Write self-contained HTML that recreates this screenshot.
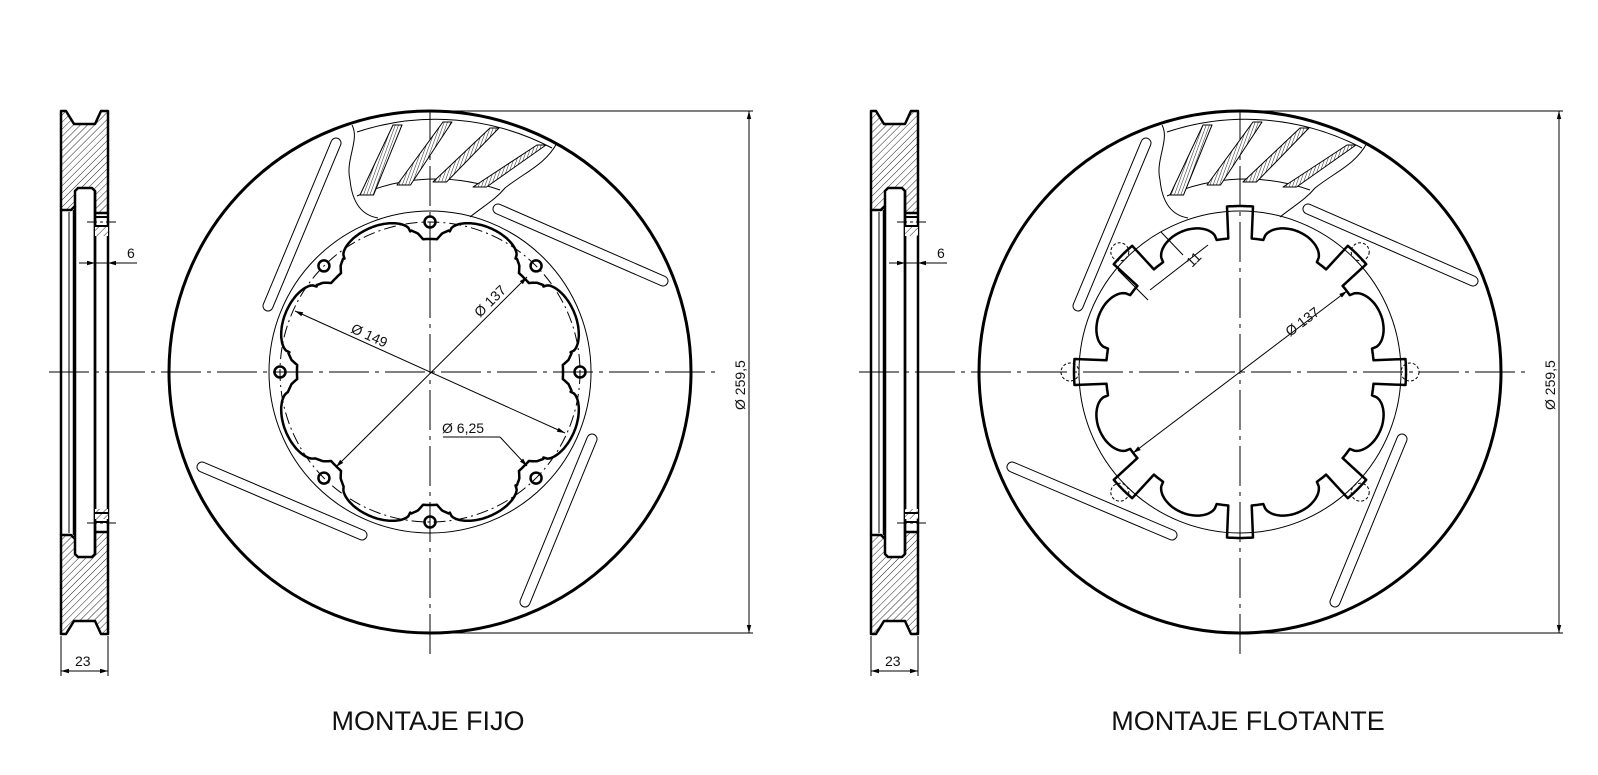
<!DOCTYPE html>
<html><head><meta charset="utf-8"><style>
html,body{margin:0;padding:0;background:#fff;}
svg{display:block;}
text{font-family:"Liberation Sans",sans-serif;fill:#111;}
</style></head><body>
<svg id="s" width="1598" height="775" viewBox="0 0 1598 775" xmlns="http://www.w3.org/2000/svg">
<defs>
<pattern id="h" width="5" height="5" patternUnits="userSpaceOnUse" patternTransform="rotate(45)">
<rect width="5" height="5" fill="#fff"/><line x1="0" y1="0" x2="0" y2="5" stroke="#222" stroke-width="1"/></pattern>
<pattern id="h2" width="3" height="3" patternUnits="userSpaceOnUse" patternTransform="rotate(20)">
<rect width="3" height="3" fill="#fff"/><line x1="0" y1="0" x2="0" y2="3" stroke="#222" stroke-width="1"/></pattern>
</defs>
<g id="g"></g>
<text x="428" y="730" font-size="27" text-anchor="middle">MONTAJE FIJO</text>
<text x="1248" y="730" font-size="27" text-anchor="middle">MONTAJE FLOTANTE</text>
</svg>
<script>
var out=[];
function L(x1,y1,x2,y2,w,d){out.push('<line x1="'+x1+'" y1="'+y1+'" x2="'+x2+'" y2="'+y2+'" stroke="#000" stroke-width="'+(w||1)+'"'+(d?' stroke-dasharray="'+d+'"':'')+'/>');}
function P(d,w,f,dash){out.push('<path d="'+d+'" stroke="#000" stroke-width="'+(w||1)+'" fill="'+(f||'none')+'"'+(dash?' stroke-dasharray="'+dash+'"':'')+' stroke-linejoin="round"/>');}
function C(x,y,r,w,dash){out.push('<circle cx="'+x+'" cy="'+y+'" r="'+r+'" stroke="#000" stroke-width="'+(w||1)+'" fill="none"'+(dash?' stroke-dasharray="'+dash+'"':'')+'/>');}
function T(x,y,s,t,rot){out.push('<text x="'+x+'" y="'+y+'" font-size="'+s+'"'+(rot!=null?' transform="rotate('+rot+' '+x+' '+y+')"':'')+'>'+t+'</text>');}
function arrow(x,y,ang){var a=ang*Math.PI/180,l=8,w=2.2;var bx=x-l*Math.cos(a),by=y-l*Math.sin(a);var px=-Math.sin(a)*w,py=Math.cos(a)*w;
 out.push('<path d="M'+x+' '+y+'L'+(bx+px)+' '+(by+py)+'L'+(bx-px)+' '+(by-py)+'Z" fill="#000"/>');}
function slot(x1,y1,x2,y2,w){var dx=x2-x1,dy=y2-y1,l=Math.hypot(dx,dy),nx=-dy/l*w/2,ny=dx/l*w/2,r=w/2;
 P('M'+(x1+nx)+' '+(y1+ny)+'L'+(x2+nx)+' '+(y2+ny)+'A'+r+' '+r+' 0 0 0 '+(x2-nx)+' '+(y2-ny)+'L'+(x1-nx)+' '+(y1-ny)+'A'+r+' '+r+' 0 0 0 '+(x1+nx)+' '+(y1+ny)+'Z',1);}
var CL="40,6,4,6";
function side(o){
 var X=function(x){return x+o;};
 var top=[[61,111],[66,111],[74,124],[95,124],[101,111],[108,111],[108,213],[95,213],[95,191],[92,188],[78,188],[75,191],[75,206],[71,210],[61,210]];
 [0,1].forEach(function(m){var pts=top.map(function(p){return X(p[0])+' '+(m?745-p[1]:p[1]);});P('M'+pts.join('L')+'Z',2.5,'url(#h)');});
 L(X(61),210,X(61),535,2.5);L(X(108),213,X(108),532,2.5);
 L(X(74),210,X(74),535,2.5);L(X(69),212,X(69),533,1);
 L(X(95),213,X(95),532,2.5);
 P('M'+X(75)+' 206L'+X(75)+' 539M'+X(95)+' 191L'+X(95)+' 554',2.5);
 [[213,236],[509,532]].forEach(function(b,i){
  var y1=b[0],y2=b[1];
  out.push('<rect x="'+X(95)+'" y="'+(i?y1:y1+13)+'" width="13" height="'+10+'" fill="url(#h)"/>');
  L(X(95),y1+4,X(108),y1+4,2);L(X(95),y1+13,X(108),y1+13,2);
  L(X(87),i?523:222,X(116),i?523:222,1,"10,3,3,3");
 });
 L(X(79),263,X(137),263,1);arrow(X(95),263,0);arrow(X(108),263,180);T(X(127),258,14,'6');
 L(X(61),636,X(61),676,1);L(X(108),636,X(108),676,1);L(X(61),671,X(108),671,1);
 arrow(X(61),671,180);arrow(X(108),671,0);T(X(75),666,14,'23');
}
function disc(cx,type){
 var cy=372,R=261;
 var cxo=cx-430;
 L(cx,110,cx,660,1,CL);
 L(49+cxo,cy,cx+287,cy,1,CL);
 C(cx,cy,R,3);
 C(cx,cy,161,1);
 var sl=[[336,143,268,306],[498,209,663,281],[202,467,362,535],[592,439,525,602]];
 sl.forEach(function(s){slot(s[0]+cxo,s[1],s[2]+cxo,s[3],10);});
 P('M'+(352+cxo)+' 125C'+(360+cxo)+' 140 '+(345+cxo)+' 160 '+(350+cxo)+' 180C'+(352+cxo)+' 200 '+(360+cxo)+' 215 '+(378+cxo)+' 218',1);
 P('M'+(470+cxo)+' 217C'+(485+cxo)+' 205 '+(495+cxo)+' 200 '+(505+cxo)+' 188C'+(525+cxo)+' 172 '+(545+cxo)+' 165 '+(557+cxo)+' 143',1);
 P('M'+(357+cxo)+' 132A250 250 0 0 1 '+(552+cxo)+' 148',1);
 P('M'+(357+cxo)+' 196A192 192 0 0 1 '+(500+cxo)+' 190',1);
 var st=[[360,195,393,125],[397,185,443,122],[433,182,490,128],[473,187,537,145]];
 st.forEach(function(s){var a=s[0]+cxo,b=s[1],c=s[2]+cxo,d=s[3],w=9;
  P('M'+a+' '+b+'L'+(a+w*1.5)+' '+b+'L'+(c+w)+' '+d+'L'+c+' '+d+'Z',1,'url(#h2)');});
 L(cx,111,cx+323,111,1);L(cx,633,cx+323,633,1);L(cx+319,111,cx+319,633,1);
 arrow(cx+319,111,-90);arrow(cx+319,633,90);
 T(cx+315,410,14,'Ø  259,5',-90);
 var d='',i,N=720;
 if(type==0){
  C(cx,cy,150,1,"12,4,2,4");
  for(i=0;i<8;i++){var a=i*Math.PI/4;C(cx+150*Math.cos(a),cy+150*Math.sin(a),5.5,2.5);}
  for(i=0;i<=N;i++){var ph=i/N*2*Math.PI;var deg=(ph*180/Math.PI)%45;var dd=Math.min(deg,45-deg);var r;
   if(dd<3)r=133;else if(dd<5)r=133+(dd-3)*3;else if(dd<8)r=139+(dd-5)*1.5;else{var t=(dd-8)/14.5;r=142+14*Math.sqrt(Math.max(0,1-(1-t)*(1-t)));}
   d+=(i?'L':'M')+(cx+r*Math.cos(ph)).toFixed(1)+' '+(cy+r*Math.sin(ph)).toFixed(1);}
  P(d+'Z',2.5);
  L(295+cxo,311,565+cxo,433,1);arrow(295+cxo,311,204.3);arrow(565+cxo,433,24.3);
  L(336+cxo,467,527+cxo,277,1);arrow(336+cxo,467,135);arrow(527+cxo,277,-45);
  T(350+cxo,332,14,'Ø 149',24.3);T(480+cxo,318,14,'Ø 137',-45);
  T(442+cxo,433,14,'Ø 6,25');L(443+cxo,437,500+cxo,437,1);L(500+cxo,437,527+cxo,466,1);arrow(527+cxo,466,47);
 }else{
  for(i=0;i<=N;i++){var ph=i/N*2*Math.PI;var deg=(ph*180/Math.PI)%45;var dd=Math.min(deg,45-deg);var r;
   if(dd<4.7)r=166;else if(dd<10)r=134;else{var t=(dd-10)/12.5;r=134+18*Math.sqrt(Math.max(0,1-(1-t)*(1-t)));}
   d+=(i?'L':'M')+(cx+r*Math.cos(ph)).toFixed(1)+' '+(cy+r*Math.sin(ph)).toFixed(1);}
  P(d+'Z',2.5);
  for(i=0;i<8;i++){var a=i*Math.PI/4;if(i%2==1||i==0||i==4){var x=cx+170*Math.cos(a),y=cy+170*Math.sin(a);C(x,y,9,1,"3,2");}}
  L(1133,453,1347,291,1);arrow(1133,453,143);arrow(1347,291,-37);
  T(1290,337,14,'Ø 137',-37);
  L(1150,290,1208,245,1);
  L(1148,300,1118,270,1);L(1183,255,1161,232,1);
  T(1192,268,14,'11',-45);
 }
}
side(0);side(810);disc(430,0);disc(1240,1);
document.getElementById('g').innerHTML=out.join('');
</script>
</body></html>
